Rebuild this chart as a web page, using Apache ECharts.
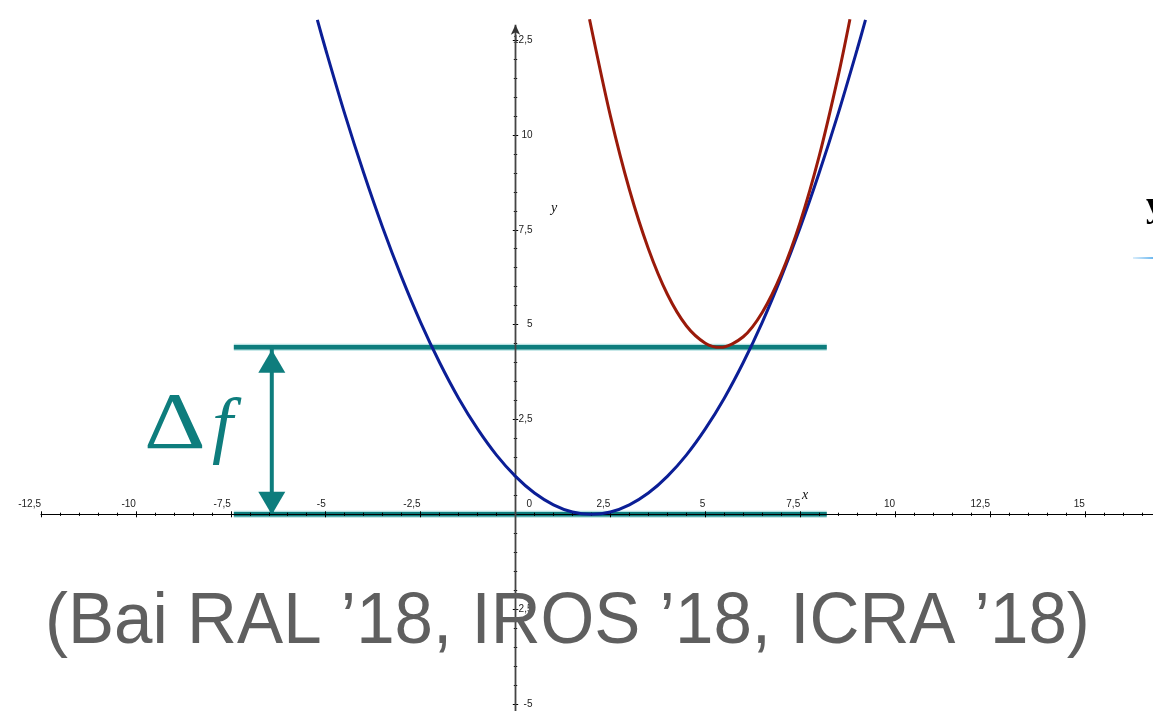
<!DOCTYPE html>
<html>
<head>
<meta charset="utf-8">
<script src="https://cdn.jsdelivr.net/npm/echarts@6/dist/echarts.min.js"></script>
<style>
  html, body { margin: 0; padding: 0; background: #ffffff; }
  #chart { width: 1153px; height: 711px; }
</style>
</head>
<body>
<div id="chart"></div>
<script>
// Lower parabola f(x): sampled points
const blueX = [-5.22, -5, -4.5, -4, -3.5, -3, -2.5, -2, -1.5, -1, -0.5, 0, 0.5, 1, 1.5, 2,
               2.5, 3, 3.5, 4, 4.5, 5, 5.5, 6, 6.5, 7, 7.5, 8, 8.5, 9, 9.22];
const blueY = [13.03, 12.25, 10.56, 9.00, 7.56, 6.25, 5.06, 4.00, 3.06, 2.25, 1.56, 1.00, 0.56, 0.25, 0.06, 0.00,
               0.06, 0.25, 0.56, 1.00, 1.56, 2.25, 3.06, 4.00, 5.06, 6.25, 7.56, 9.00, 10.56, 12.25, 13.03];

// Upper parabola: sampled points
const redX = [1.95, 2.5, 3, 3.5, 4, 4.5, 5, 5.4, 6, 6.5, 7, 7.5, 8, 8.5, 8.81];
const redY = [13.05, 10.50, 8.56, 7.00, 5.80, 4.97, 4.51, 4.40, 4.68, 5.32, 6.33, 7.70, 9.44, 11.55, 13.05];

// Horizontal levels bounding the gap Δf, and their horizontal extent
const levelValues = [0, 4.4];
const levelSpan = [-7.42, 8.2];
const gapArrowX = -6.42;

// Axis ranges and tick step
const xRange = [-12.5, 17.5];
const yRange = [-7.5, 15];        // plotting range
const yTickRange = [-7.5, 12.5];  // range carrying ticks and labels
const tickStep = 2.5;
const yAxisLineEnds = [-5.4, 12.9];

// Page layout: pixel position of the origin and pixels per unit
const W = 1153, H = 711;
const origin = [515.5, 514.3];
const pxPerUnit = [37.96, 37.94];

const gxLeft = origin[0] + xRange[0] * pxPerUnit[0];
const gxRight = origin[0] + xRange[1] * pxPerUnit[0];
const gyTop = origin[1] - yRange[1] * pxPerUnit[1];
const gyBottom = origin[1] - yRange[0] * pxPerUnit[1];
const tyTop = origin[1] - yTickRange[1] * pxPerUnit[1];
const tyBottom = origin[1] - yTickRange[0] * pxPerUnit[1];

// axis offsets that put each axis on the other axis' zero
const offBottom = -(gyBottom - origin[1]);
const offTop = -(origin[1] - gyTop);
const offLeft = -(origin[0] - gxLeft);
const offRight = -(gxRight - origin[0]);

const TEAL = '#0e7d7d';
const BLUE = '#0b1e96';
const RED = '#9a1a0a';

const isMajor = v => Math.abs(v / tickStep - Math.round(v / tickStep)) < 1e-6;
const fmt = v => String(v).replace('.', ',');
const pairs = (xs, ys) => xs.map((x, i) => [x, ys[i]]);

const chart = echarts.init(document.getElementById('chart'), null, { renderer: 'canvas' });

const tickStyle = { color: '#000', width: 1 };
const labelFont = { fontSize: 10, color: '#222', fontFamily: 'Liberation Sans' };
const hiddenLine = { show: true, onZero: false, lineStyle: { color: 'rgba(0,0,0,0)', width: 0 } };

function axisBase(range, position, offset, tickLen, minorLen, gridIndex) {
  return {
    type: 'value', gridIndex: gridIndex, min: range[0], max: range[1], interval: tickStep,
    position: position, offset: offset, z: 3,
    axisTick: { show: true, inside: false, length: tickLen, lineStyle: tickStyle },
    minorTick: { show: true, splitNumber: 5, length: minorLen, lineStyle: tickStyle },
    splitLine: { show: false }, minorSplitLine: { show: false }
  };
}

const series = [];

// Level lines (soft halo under a solid teal stroke)
levelValues.forEach(lv => {
  const d = [[levelSpan[0], lv], [levelSpan[1], lv]];
  series.push({
    type: 'line', data: d, symbol: 'none', z: 1, silent: true,
    lineStyle: { color: 'rgba(120,200,200,0.55)', width: 7, cap: 'butt' }
  });
  series.push({
    type: 'line', data: d, symbol: 'none', z: 1, silent: true,
    lineStyle: { color: TEAL, width: 4.5, cap: 'butt' }
  });
});

// Double-headed arrow marking the gap
series.push({
  type: 'line', z: 2, silent: true,
  symbol: 'triangle', symbolSize: [27, 23],
  itemStyle: { color: TEAL },
  lineStyle: { color: TEAL, width: 4 },
  data: [
    { value: [gapArrowX, levelValues[0]], symbolRotate: 180, symbolOffset: [0, -11] },
    { value: [gapArrowX, levelValues[1]], symbolOffset: [0, 14] }
  ]
});

// Vertical axis line with arrow head
series.push({
  type: 'line', z: 3, silent: true,
  symbol: 'arrow', symbolSize: [7, 10],
  itemStyle: { color: '#333' },
  lineStyle: { color: '#444', width: 1.8 },
  data: [
    { value: [0, yAxisLineEnds[0]], symbol: 'none' },
    { value: [0, yAxisLineEnds[1]] }
  ]
});

// The two parabolas
series.push({
  type: 'line', z: 5, silent: true, symbol: 'none', smooth: 0.3,
  lineStyle: { color: BLUE, width: 3 },
  data: pairs(blueX, blueY)
});
series.push({
  type: 'line', z: 5, silent: true, symbol: 'none', smooth: 0.3,
  lineStyle: { color: RED, width: 3 },
  data: pairs(redX, redY)
});
series.forEach(s => { s.xAxisIndex = 0; s.yAxisIndex = 0; });

// grid 0: plotting area + horizontal axis
const xMain = axisBase(xRange, 'bottom', offBottom, 3, 1.6, 0);
xMain.axisLine = { show: true, onZero: false, lineStyle: { color: '#000', width: 1.2 } };
xMain.axisLabel = Object.assign({
  inside: true, align: 'right', margin: 5, showMinLabel: true, showMaxLabel: true,
  formatter: v => (v === 0 || !isMajor(v)) ? '' : fmt(v)
}, labelFont);

const xUpper = axisBase(xRange, 'top', offTop, 3, 1.6, 0);
xUpper.axisLine = hiddenLine;
xUpper.axisLabel = Object.assign({
  inside: false, align: 'left', margin: 5, padding: [0, 0, 0, 11],
  formatter: v => v === 0 ? '0' : ''
}, labelFont);

const yPlot = { type: 'value', gridIndex: 0, min: yRange[0], max: yRange[1], show: false };

// grid 1: vertical ticks and labels, ending at the last labelled tick
const xHelper = { type: 'value', gridIndex: 1, min: xRange[0], max: xRange[1], show: false };

const yMain = axisBase(yTickRange, 'left', offLeft, 2.7, 1.7, 1);
yMain.axisLine = hiddenLine;
yMain.axisLabel = Object.assign({
  inside: true, align: 'right', margin: 17, padding: [3, 0, 0, 0],
  formatter: v => (v === 0 || !isMajor(v)) ? '' : fmt(v)
}, labelFont);

const yRight = axisBase(yTickRange, 'right', offRight, 2.7, 1.7, 1);
yRight.axisLine = hiddenLine;
yRight.axisLabel = { show: false };

const option = {
  animation: false,
  backgroundColor: '#ffffff',
  grid: [
    { left: gxLeft, top: gyTop, width: gxRight - gxLeft, height: gyBottom - gyTop,
      containLabel: false, outerBoundsMode: 'none' },
    { left: gxLeft, top: tyTop, width: gxRight - gxLeft, height: tyBottom - tyTop,
      containLabel: false, outerBoundsMode: 'none' }
  ],
  xAxis: [xMain, xUpper, xHelper],
  yAxis: [yPlot, yMain, yRight],
  series: series,
  graphic: [
    // Δf annotation
    { type: 'text', x: 144, y: 427, scaleX: 1.2, z: 10, silent: true,
      style: { text: 'Δ', fill: TEAL, font: '80px "Liberation Serif"', verticalAlign: 'middle', align: 'left' } },
    { type: 'text', x: 212, y: 429, z: 10, silent: true,
      style: { text: 'f', fill: TEAL, font: 'italic 75px "Liberation Serif"', verticalAlign: 'middle', align: 'left' } },
    // axis names
    { type: 'text', x: 802, y: 495, z: 10, silent: true,
      style: { text: 'x', fill: '#111', font: 'italic 14px "Liberation Serif"', verticalAlign: 'middle', align: 'left' } },
    { type: 'text', x: 551, y: 208, z: 10, silent: true,
      style: { text: 'y', fill: '#111', font: 'italic 14px "Liberation Serif"', verticalAlign: 'middle', align: 'left' } },
    // citation
    { type: 'text', x: 45, y: 623.6, scaleX: 0.96, z: 10, silent: true,
      style: { text: '(Bai RAL ’18, IROS ’18, ICRA ’18)', fill: '#5f5f5f',
               font: '72px "Liberation Sans"', verticalAlign: 'middle', align: 'left' } },
    // label cut at the right border
    { type: 'text', x: 1146, y: 207, z: 10, silent: true,
      style: { text: 'y', fill: '#000', font: 'bold 36px "Liberation Serif"', verticalAlign: 'middle', align: 'left' } },
    { type: 'line', z: 10, silent: true,
      shape: { x1: 1133, y1: 258, x2: W, y2: 258 },
      style: { lineWidth: 2,
        stroke: new echarts.graphic.LinearGradient(0, 0, 1, 0, [
          { offset: 0, color: 'rgba(120,190,240,0.2)' },
          { offset: 1, color: '#5cb0ee' }
        ]) } }
  ]
};

chart.setOption(option);
</script>
</body>
</html>
